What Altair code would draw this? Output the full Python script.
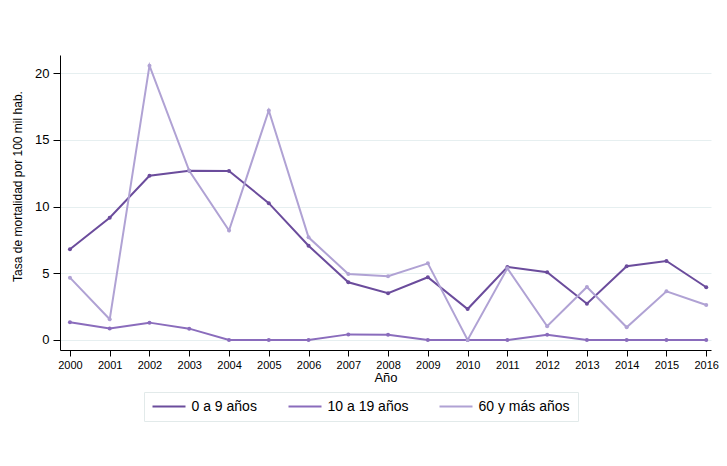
import altair as alt
import pandas as pd

years = list(range(2000, 2017))
series_names = ["0 a 9 años", "10 a 19 años", "60 y más años"]
v_0_9 = [6.8, 9.16, 12.3, 12.68, 12.66, 10.25, 7.06, 4.32, 3.5, 4.7, 2.32, 5.47, 5.07, 2.72, 5.52, 5.92, 3.95]
v_10_19 = [1.33, 0.87, 1.3, 0.85, 0, 0, 0, 0.42, 0.4, 0, 0, 0, 0.4, 0, 0, 0, 0]
v_60 = [4.67, 1.55, 20.55, 12.68, 8.2, 17.2, 7.69, 4.94, 4.77, 5.74, 0, 5.37, 1.03, 3.97, 0.95, 3.65, 2.62]
colors = ["#6b4c9c", "#8a6cbc", "#b0a2d4"]

rows = []
for name, vals in zip(series_names, [v_0_9, v_10_19, v_60]):
    for y, v in zip(years, vals):
        rows.append({"year": y, "value": v, "serie": name})
df = pd.DataFrame(rows)

font = "Liberation Sans"

chart = alt.Chart(df).mark_line(
    strokeWidth=2,
    point=alt.OverlayMarkDef(filled=True, size=16),
).encode(
    x=alt.X("year:Q",
            scale=alt.Scale(domain=[1999.75, 2016.12], nice=False, zero=False),
            axis=alt.Axis(values=years, format="d", title="Año", grid=False,
                          labelFontSize=11, titleFontSize=13, titleFontWeight="normal",
                          tickSize=6, labelPadding=3, titlePadding=1,
                          domainColor="#000000", tickColor="#000000",
                          labelColor="#000000", titleColor="#000000")),
    y=alt.Y("value:Q",
            scale=alt.Scale(domain=[-0.75, 21.35], nice=False, zero=False),
            axis=alt.Axis(values=[0, 5, 10, 15, 20], title="Tasa de mortalidad por 100 mil hab.",
                          grid=True, gridColor="#e6eff0", gridWidth=1,
                          labelFontSize=13, titleFontSize=12, titleFontWeight="normal",
                          tickSize=7, labelPadding=4,
                          titleX=-43, titleY=131, titleAngle=270, titleBaseline="middle",
                          domainColor="#000000", tickColor="#000000",
                          labelColor="#000000", titleColor="#000000")),
    color=alt.Color("serie:N",
                    scale=alt.Scale(domain=series_names, range=colors),
                    legend=alt.Legend(title=None, orient="none", legendX=84, legendY=337,
                                      direction="horizontal", columns=3,
                                      symbolType="stroke", symbolSize=1089, symbolStrokeWidth=2,
                                      clipHeight=14,
                                      labelFontSize=14, labelOffset=5, columnPadding=30,
                                      padding=7.5, strokeColor="#e2eaea", fillColor="#ffffff",
                                      labelColor="#000000")),
).properties(
    width=651,
    height=295,
    autosize=alt.AutoSizeParams(type="none"),
    padding={"left": 52, "top": 47, "right": 8, "bottom": 82},
).configure(
    font=font,
).configure_view(
    stroke=None,
).configure_axis(
    domainWidth=1,
)

chart.save("out.html", embed_options={"renderer": "svg", "actions": False})
